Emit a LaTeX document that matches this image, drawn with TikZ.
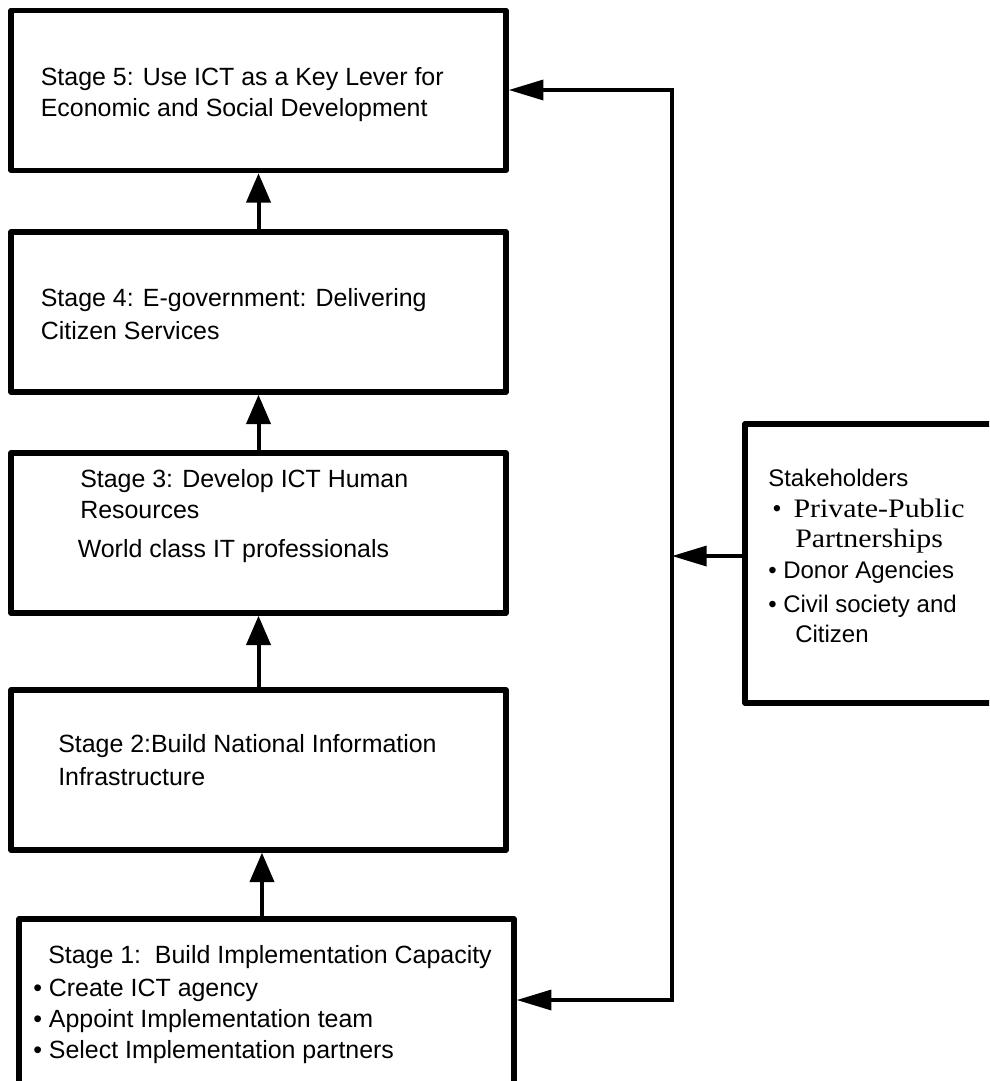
\documentclass[tikz,border=0pt]{standalone}
\usepackage{fontspec}
\usepackage{graphicx}
\setmainfont{Liberation Sans}
\newfontfamily\timesfont{Liberation Serif}
\usetikzlibrary{arrows.meta}
\begin{document}
\begin{tikzpicture}[x=0.75pt,y=-0.75pt,
  stagebox/.style={draw, line width=4.1pt, line join=round, inner sep=0pt, minimum width=371.25pt, minimum height=120pt},
  stagetext/.style={anchor=base west, inner sep=0pt, font=\fontsize{18.7}{24}\selectfont},
  shtext/.style={anchor=base west, inner sep=0pt, font=\fontsize{18}{23}\selectfont},
  sertext/.style={anchor=base west, inner sep=0pt, font=\fontsize{20}{23}\selectfont\timesfont},
  uparr/.style={line width=3pt, -{Triangle[length=22pt,width=18pt]}},
  fbarr/.style={line width=2.6pt, line join=miter, -{Triangle[length=26pt,width=15pt]}},
]
\useasboundingbox (0,0) rectangle (989,1081);
\clip (0,0) rectangle (989,1081);

% boxes
\node[stagebox] (s5) at (258.5,90.5) {};
\node[stagebox] (s4) at (258.5,312) {};
\node[stagebox] (s3) at (258.5,533) {};
\node[stagebox] (s2) at (258.5,770) {};
\node[stagebox, minimum height=135.75pt] (s1) at (266.5,1009.5) {};
\node[stagebox, minimum width=198.75pt, minimum height=209.25pt] (sh) at (877.5,563.5) {};

% texts
\node[stagetext] (t5a) at (40.6,85) {Stage 5: Use ICT as a Key Lever for};
\node[stagetext] (t5b) at (40.6,117) {Economic and Social Development};
\node[stagetext] (t4a) at (40.6,306) {Stage 4: E-government: Delivering};
\node[stagetext] (t4b) at (40.6,339) {Citizen Services};
\node[stagetext] (t3a) at (80,487) {Stage 3: Develop ICT Human};
\node[stagetext] (t3b) at (80,518) {Resources};
\node[stagetext] (t3c) at (77.5,557) {World class IT professionals};
\node[stagetext] (t2a) at (58,752) {Stage 2:Build National Information};
\node[stagetext] (t2b) at (58,785) {Infrastructure};
\node[stagetext] (t1a) at (48,963) {Stage 1:\ \ Build Implementation Capacity};
\node[stagetext] (t1b) at (33,996) {• Create ICT agency};
\node[stagetext] (t1c) at (33,1027) {• Appoint Implementation team};
\node[stagetext] (t1d) at (33,1058) {• Select Implementation partners};

\node[shtext] (sha) at (768,486) {Stakeholders};
\node[sertext] (shb) at (772,517) {•\hspace{0.45em}\scalebox{1.12}[1]{Private-Public}};
\node[sertext] (shc) at (795,547) {\scalebox{1.12}[1]{Partnerships}};
\node[shtext] (shd) at (768,578) {• Donor Agencies};
\node[shtext] (she) at (768,612) {• Civil society and};
\node[shtext] (shf) at (795,642) {Citizen};

% stage arrows
\draw[uparr] (s4.north) -- (s5.south);
\draw[uparr] (s3.north) -- (s4.south);
\draw[uparr] (s2.north) -- (s3.south);
\draw[uparr] ([xshift=-3.4pt]s1.north) -- ([xshift=-3.4pt]s1.north |- s2.south);

% feedback loop
\coordinate (j1) at (672,90);
\coordinate (j2) at (672,1000);
\draw[fbarr] (j2) -- (j1) -- (j1 -| s5.east);
\draw[fbarr] (j1) -- (j2) -- (j2 -| s1.east);
\draw[fbarr] ([yshift=5.6pt]sh.west) coordinate (shw) -- (shw -| j1);
\end{tikzpicture}
\end{document}
